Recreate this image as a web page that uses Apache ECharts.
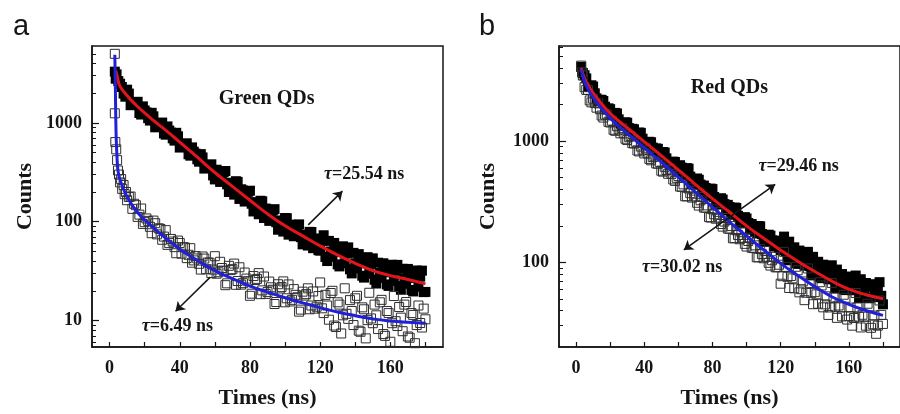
<!DOCTYPE html>
<html><head><meta charset="utf-8">
<script src="https://cdn.jsdelivr.net/npm/echarts@6/dist/echarts.min.js"></script>
<style>html,body{margin:0;padding:0;background:#fff}#c{width:900px;height:414px}</style>
</head><body><div id="c"></div>
<script>
// ---------- data (time in ns, counts) ----------
const greenFilled = [[3,3300],[3.5,2800],[4,3100],[5,2650],[6,2490],[8,1980],[10,2170],[12,1510],[14,1580],[16,1635],[18,1215],[20,1336],[22,1116],[24,1265],[26,902],[28,960],[30,1008],[32,760],[34,837],[36,698],[38,794],[40,563],[42,596],[44,622],[46,466],[48,512],[50,428],[52,483],[54,345],[56,365],[58,381],[60,268],[62,326],[64,256],[66,326],[68,200],[70,228],[72,257],[74,170],[76,207],[78,162],[80,206],[82,127],[84,145],[86,163],[88,109],[90,132],[92,104],[94,134],[96,83],[98,96],[100,109],[102,74],[104,91],[106,73],[108,94],[110,59],[112,69],[114,79],[116,54],[118,66],[120,51],[122,73],[124,40],[126,50],[128,61],[130,37],[132,50],[134,38],[136,55],[138,30],[140,38],[142,47],[144,28.4],[146,38.4],[148,29.8],[150,42.6],[152,23.7],[154,30.4],[156,38],[158,23.2],[160,31.9],[162,25.2],[164,36.6],[166,20.5],[168,26.5],[170,33.3],[172,20.4],[174,28],[176,22],[178,32],[180,19.5],
[7,2310],[9,1841],[11,1980],[13,1600],[15,1520],[17,1260],[19,1469],[21,1276],[23,1056],[25,1166],[27,960],[29,930],[31,783],[33,921],[35,798],[37,662],[39,732],[41,599],[43,575],[45,482],[47,565],[49,489],[51,405],[53,447],[55,367],[57,352],[59,294],[61,336],[63,253],[65,317],[67,239],[69,248],[71,188],[73,253],[75,213],[77,160],[79,201],[81,152],[83,158],[85,119],[87,161],[89,136],[91,102],[93,130],[95,98.8],[97,103],[99,79.5],[101,108.6],[103,93.5],[105,71.3],[107,90.9],[109,69.8],[111,74],[113,57.4],[115,78.7],[117,67.7],[119,51.5],[121,64.4],[123,44],[125,64],[127,44.1],[129,49.4],[131,35.3],[133,56.4],[135,48.1],[137,33],[139,48.4],[141,33.7],[143,37.9],[145,27.2],[147,43.8],[149,37.4],[151,25.9],[153,38.5],[155,27],[157,30.8],[159,22.4],[161,36.7],[163,31.9],[165,22.3],[167,33.4],[169,23.6],[171,27],[173,19.7],[175,32.1],[177,27.8],[179,19.4]];
const greenOpen = [[3,5000],[3,1250],[3.3,640],[3.8,540],[4.3,420],[4.8,330],[5.4,300],[6,250],[6.6,270],[7.2,215],[8,235],[8.6,190],[9.4,200],[10,165],[11,178],
[12,180],[13,135],[14,152],[15,147],[16,112],[17,118],[18,136],[19,95],[20,99],[21,108],[22,102],[23,88.8],[24,76.5],[25,102.7],[26,96.6],[27,74.5],[28,85.8],[29,84.6],[30,65.7],[31,70.7],[32,82.2],[33,58.3],[34,60.8],[35,67],[36,63],[37,55.3],[38,48],[39,64.5],[40,61],[41,47.5],[42,55.3],[43,54.8],[44,42.8],[45,46.3],[46,54],[47,38.5],[48,40.6],[49,44.9],[50,42.5],[51,37.5],[52,32.8],[53,44.5],[54,42.4],[55,33.1],[56,38.7],[57,38.5],[58,30.2],[59,32.8],
[60,44.8],[61,29.8],[62,30.8],[63,39.3],[64,34],[65,31.9],[66,22.8],[67,23.8],[68,35.8],[69,32.4],[70,33.1],[71,37.7],[72,23],[73,25.1],[74,34.6],[75,23.1],[76,23.9],[77,30.6],[78,26.6],[79,25],[80,17.8],[81,18.7],[82,28.2],[83,25.7],[84,26.4],[85,30.2],[86,18.5],[87,20.2],[88,27.9],[89,18.6],[90,19.4],[91,24.8],[92,21.7],[93,20.5],[94,14.7],[95,15.4],[96,23.3],[97,21.1],[98,21.8],[99,24.9],[100,15.3],[101,16.8],[102,23.2],[103,15.6],[104,16.2],[105,20.8],[106,18.2],[107,17.2],[108,12.3],[109,12.9],[110,19.6],[111,17.9],[112,18.5],[113,21.2],[114,13],[115,14.2],[116,19.7],[117,13.2],[118,13.8],[119,17.7],
[120,24.3],[121,13.3],[122,11.9],[123,18.2],[124,14.2],[125,10.2],[126,19],[127,20],[128,8.9],[129,8.6],[130,15.3],[131,14.5],[132,7.4],[133,11.3],[134,21.2],[135,11.7],[136,10.4],[137,16.1],[138,12.5],[139,9],[140,16.8],[141,17.8],[142,7.9],[143,7.7],[144,13.6],[145,13],[146,6.6],[147,10.1],[148,19.1],[149,10.5],[150,9.4],[151,14.5],[152,11.3],[153,8.2],[154,15.3],[155,16.2],[156,7.3],[157,7],[158,12.5],[159,11.9],[160,6.1],[161,9.4],[162,17.7],[163,9.85],[164,8.8],[165,13.7],[166,10.7],[167,7.8],[168,14.5],[169,15.4],[170,6.9],[171,6.7],[172,11.9],[173,11.4],[174,5.9],[175,9],[176,14.2],[177,9.45],[178,8.5],[179,13.2],[180,10.3]];
const greenRedFit = [[3.5,3400],[4.5,2900],[5.5,2450],[7,2200],[9,1980],[12,1720],[15,1520],[20,1260],[25,1060],[30,900],[35,760],[40,640],[50,450],[60,315],[70,228],[80,165],[90,120],[100,91],[110,72],[120,57],[130,46],[140,38],[150,32],[160,28.5],[170,26],[180,23.5]];
const greenBlueFit = [[3,4900],[3.3,2400],[3.7,800],[4.2,470],[4.7,340],[5.5,285],[6.5,250],[7.5,225],[9,195],[11,167],[14,138],[18,113],[22,97],[28,78],[34,64],[40,53],[50,40.5],[60,32],[70,26.5],[80,22.3],[90,19.4],[100,17],[110,15.1],[120,13.5],[130,12.2],[140,11.2],[150,10.4],[160,9.9],[170,9.6],[180,9.4]];

const redFilled = [[3,4100],[4,3650],[6,3294],[8,2805],[10,2822],[12,2254],[14,2194],[16,2145],[18,1820],[20,1836],[22,1632],[24,1691],[26,1401],[28,1414],[30,1419],[32,1225],[34,1253],[36,1122],[38,1170],[40,970],[42,978],[44,979],[46,845],[48,864],[50,775],[52,806],[54,666],[56,671],[58,673],[60,568],[62,605],[64,522],[66,593],[68,444],[70,462],[72,480],[74,387],[76,411],[78,354],[80,402],[82,302],[84,317],[86,330],[88,268],[90,286],[92,247],[94,281],[96,211],[98,222],[100,230],[102,186],[104,199],[106,173],[108,198],[110,150],[112,159],[114,166],[116,135],[118,145],[120,126],[122,163],[124,104],[126,122],[128,133],[130,97],[132,118],[134,94],[136,122],[138,78],[140,92],[142,101],[144,74],[146,90],[148,72.5],[150,94.5],[152,61],[154,72.6],[156,80],[158,59],[160,72],[162,58.8],[164,77.8],[166,50.8],[168,60.7],[170,67.5],[172,50.5],[174,62.9],[176,51.6],[178,68.6],[180,45],
[5,3500],[7,2850],[9,2893],[11,2482],[13,2134],[15,2192],[17,1923],[19,1866],[21,1650],[23,1711],[25,1514],[27,1353],[29,1431],[31,1282],[33,1264],[35,1130],[37,1179],[39,1048],[41,936],[43,988],[45,884],[47,871],[49,780],[51,814],[53,721],[55,642],[57,678],[59,608],[61,633],[63,547],[65,599],[67,509],[69,439],[71,492],[73,438],[75,430],[77,371],[79,406],[81,346],[83,301],[85,338],[87,302],[89,298],[91,258],[93,283],[95,242],[97,210],[99,236],[101,211],[103,207],[105,181],[107,199],[109,171],[111,149],[113,169],[115,152],[117,151],[119,132],[121,148],[123,124],[125,148],[127,119],[129,98.8],[131,125],[133,110],[135,111],[137,93],[139,111],[141,90.8],[143,75.5],[145,95.6],[147,84.8],[149,85.4],[151,72.5],[153,87.1],[155,71.5],[157,59.9],[159,76.3],[161,68.3],[163,69.8],[165,59.9],[167,72.5],[169,60],[171,50.9],[173,66],[175,59.8],[177,61.4],[179,52.9]];
const redOpen = [[3,4200],[3.5,3700],[4,3480],[6,2650],[8,2168],[10,2241],[12,1890],[14,1834],[16,1566],[18,1660],[20,1426],[22,1241],[24,1329],[26,1161],[28,1159],[30,1021],[32,1100],[34,957],[36,837],[38,902],[40,792],[42,791],[44,695],[46,748],[48,651],[50,570],[52,614],[54,538],[56,537],[58,470],[60,515],[62,420],[64,351],[66,408],[68,342],[70,350],[72,294],[74,346],[76,282],[78,236],[80,274],[82,229],[84,234],[86,197],[88,232],[90,189],[92,158],[94,184],[96,155],[98,159],[100,135],[102,160],[104,131],[106,110],[108,129],[110,108],[112,111],[114,94],[116,111],[118,91],[120,66.6],[122,122],[124,76],[126,77],[128,61],[130,86],[132,60],[134,48.7],[136,89],[138,56],[140,56.7],[142,45.5],[144,64.4],[146,45],[148,36.8],[150,67.6],[152,43],[154,44],[156,35.8],[158,51],[160,36],[162,30],[164,55.8],[166,35.6],[168,36.9],[170,30],[172,43.2],[174,30.8],[176,25.7],[178,48.4],[180,31],
[5,2790],[7,2646],[9,2090],[11,2068],[13,2050],[15,1628],[17,1651],[19,1445],[21,1475],[23,1217],[25,1250],[27,1280],[29,1047],[31,1085],[33,963],[35,990],[37,823],[39,851],[41,873],[43,714],[45,738],[47,655],[49,675],[51,560],[53,578],[55,593],[57,483],[59,498],[61,422],[63,440],[65,350],[67,372],[69,391],[71,310],[73,325],[75,283],[77,295],[79,234],[81,249],[83,261],[85,207],[87,217],[89,190],[91,199],[93,158],[95,168],[97,177],[99,142],[101,150],[103,132],[105,138],[107,110],[109,117],[111,124],[113,99],[115,104],[117,91],[119,95.5],[121,76.8],[123,91.7],[125,61.4],[127,73.7],[129,91.9],[131,56.5],[133,69.5],[135,56.1],[137,67.2],[139,45.1],[141,54.4],[143,68.5],[145,42.5],[147,52.4],[149,42.4],[151,51.2],[153,34.8],[155,42.5],[157,54],[159,33.7],[161,42.3],[163,34.7],[165,42.4],[167,29],[169,35.6],[171,45.5],[173,28.8],[175,36.3],[177,30],[179,36.8]];
const redRedFit = [[3,4000],[5,3300],[8,2750],[12,2300],[16,1950],[20,1700],[25,1470],[30,1290],[35,1130],[40,990],[50,760],[60,580],[70,440],[80,335],[90,260],[100,200],[110,158],[120,126],[130,102],[140,84],[150,70],[160,60],[170,54],[180,50]];
const redBlueFit = [[3,3900],[5,3100],[8,2550],[12,2100],[16,1780],[20,1550],[25,1330],[30,1160],[35,1010],[40,880],[50,670],[60,505],[70,380],[80,285],[90,215],[100,165],[110,127],[120,98],[130,78],[140,63],[150,52],[160,45],[170,40],[180,36.5]];

// ---------- ticks ----------
const xTickLabels = [0,40,80,120,160];
const xTickMarks = [0,20,40,60,80,100,120,140,160,180];
const yMajorA = [10,100,1000];
const yMinorA = [6,7,8,9,20,30,40,50,60,70,80,90,200,300,400,500,600,700,800,900,2000,3000,4000,5000];
const yMajorB = [100,1000];
const yMinorB = [30,40,50,60,70,80,90,200,300,400,500,600,700,800,900,2000,3000,4000,5000,6000];

// ---------- styling ----------
const SERIF = "'Liberation Serif','Times New Roman',serif";
const INK = '#151515';
const RED = '#e3141b';
const BLUE = '#2020d8';

function xAxisFor(gi){
  return {
    gridIndex: gi, type:'value', min:-10, max:190,
    name:'Times (ns)', nameLocation:'middle', nameGap:40,
    nameTextStyle:{fontFamily:SERIF, fontWeight:'bold', fontSize:22, color:INK},
    axisLine:{show:true, onZero:false, lineStyle:{color:INK, width:1.5}},
    axisTick:{show:true, inside:true, length:5, customValues:xTickMarks, lineStyle:{color:INK, width:1.2}},
    axisLabel:{show:true, customValues:xTickLabels, margin:12, fontFamily:SERIF, fontWeight:'bold', fontSize:18, color:INK},
    splitLine:{show:false}
  };
}
function yAxesFor(gi, min, max, major, minor, nameGap){
  return [
    {gridIndex:gi, type:'log', logBase:10, min:min, max:max, position:'left',
     name:'Counts', nameLocation:'middle', nameGap:nameGap, nameRotate:90,
     nameTextStyle:{fontFamily:SERIF, fontWeight:'bold', fontSize:22, color:INK},
     axisLine:{show:true, onZero:false, lineStyle:{color:INK, width:1.5}},
     axisTick:{show:true, inside:true, length:7, customValues:major, lineStyle:{color:INK, width:1.2}},
     axisLabel:{show:true, customValues:major, formatter:function(v){return String(Math.round(v));}, margin:10, fontFamily:SERIF, fontWeight:'bold', fontSize:18, color:INK},
     splitLine:{show:false}},
    {gridIndex:gi, type:'log', logBase:10, min:min, max:max, position:'left',
     axisLine:{show:false, onZero:false},
     axisTick:{show:true, inside:true, length:4, customValues:minor, lineStyle:{color:INK, width:1}},
     axisLabel:{show:false}, splitLine:{show:false}}
  ];
}
function tauLabel(coord, txt){
  return {coord:coord, label:{show:true, position:'inside', formatter:'{i|τ}{n|' + txt + '}',
    rich:{i:{fontStyle:'italic', fontFamily:SERIF, fontWeight:'bold', fontSize:18, color:INK},
          n:{fontFamily:SERIF, fontWeight:'bold', fontSize:18, color:INK}}}};
}
function titleLabel(coord, txt){
  return {coord:coord, label:{show:true, position:'inside', formatter:txt,
    fontFamily:SERIF, fontWeight:'bold', fontSize:20, color:INK}};
}
function filledSeries(xi, yi, data){
  return {type:'scatter', xAxisIndex:xi, yAxisIndex:yi, data:data, symbol:'rect', symbolSize:10,
    itemStyle:{color:'#000', opacity:1}, silent:true, z:2};
}
function openSeries(xi, yi, data){
  return {type:'scatter', xAxisIndex:xi, yAxisIndex:yi, data:data, symbol:'rect', symbolSize:9,
    itemStyle:{color:'rgba(255,255,255,0)', borderColor:'#2e2e2e', borderWidth:1, opacity:1}, silent:true, z:3};
}
function fitSeries(xi, yi, data, color, extra){
  return Object.assign({type:'line', xAxisIndex:xi, yAxisIndex:yi, data:data, showSymbol:false, symbol:'none',
    smooth:0.5, lineStyle:{color:color, width:3}, silent:true, z:4}, extra || {});
}
const markSym = {symbol:'rect', symbolSize:1, itemStyle:{color:'rgba(0,0,0,0)'}, silent:true};

const option = {
  animation:false,
  backgroundColor:'#fff',
  title:[
    {text:'a', left:8, top:7, textStyle:{fontFamily:"'Liberation Sans',Arial,sans-serif", fontWeight:'normal', fontSize:29, color:INK}},
    {text:'b', left:474, top:7, textStyle:{fontFamily:"'Liberation Sans',Arial,sans-serif", fontWeight:'normal', fontSize:29, color:INK}}
  ],
  grid:[
    {left:92, top:46, width:351, height:307, show:true, borderColor:INK, borderWidth:1.5},
    {left:559, top:46, width:348, height:306, show:true, borderColor:INK, borderWidth:1.5}
  ],
  xAxis:[xAxisFor(0), xAxisFor(1)],
  yAxis:[].concat(yAxesFor(0, 5.4, 6000, yMajorA, yMinorA, 56), yAxesFor(1, 20, 6100, yMajorB, yMinorB, 60)),
  series:[
    filledSeries(0, 0, greenFilled),
    openSeries(0, 0, greenOpen),
    fitSeries(0, 0, greenRedFit, RED, {
      markPoint: Object.assign({data:[titleLabel([89.5,1746],'Green QDs'), tauLabel([145,300],'=25.54 ns'), tauLabel([38.7,8.8],'=6.49 ns')]}, markSym),
      markLine:{silent:true, symbol:['none','arrow'], symbolSize:9, label:{show:false},
        lineStyle:{color:INK, width:1.5, type:'solid'},
        data:[[{coord:[113.2,93]},{coord:[132.7,204]}], [{coord:[57.4,27.5]},{coord:[37.6,12.4]}]]}
    }),
    fitSeries(0, 0, greenBlueFit, BLUE),
    filledSeries(1, 2, redFilled),
    openSeries(1, 2, redOpen),
    fitSeries(1, 2, redRedFit, RED, {
      markPoint: Object.assign({data:[titleLabel([89.9,2765],'Red QDs'), tauLabel([130.5,620],'=29.46 ns'), tauLabel([62.2,91],'=30.02 ns')]}, markSym),
      markLine:{silent:true, symbol:['arrow','arrow'], symbolSize:9, label:{show:false},
        lineStyle:{color:INK, width:1.5, type:'solid'},
        data:[[{coord:[63.2,126.5]},{coord:[116.8,440]}]]}
    }),
    fitSeries(1, 2, redBlueFit, BLUE)
  ]
};
const chart = echarts.init(document.getElementById('c'), null, {renderer:'canvas'});
chart.setOption(option);
</script>
</body></html>
